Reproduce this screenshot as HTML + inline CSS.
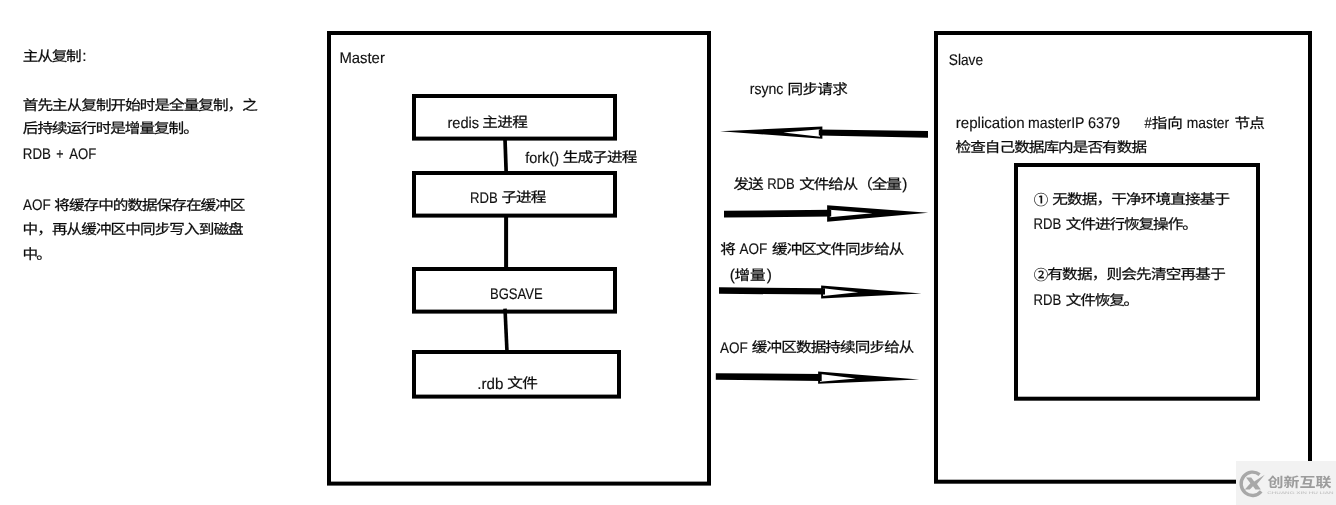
<!DOCTYPE html>
<html lang="zh-CN">
<head>
<meta charset="utf-8">
<title>Redis 主从复制</title>
<style>
html,body{margin:0;padding:0;background:#fff;}
body{width:1336px;height:505px;overflow:hidden;position:relative;}
svg{position:absolute;left:0;top:0;display:block;will-change:transform;}
text{font-family:"Liberation Sans", "Noto Sans CJK SC", sans-serif;font-size:15.4px;fill:#111;white-space:pre;text-rendering:geometricPrecision;stroke:#111;stroke-width:0.15px;}
.c{font-size:15.6px;fill:#0a0a0a;stroke:#0a0a0a;stroke-width:0.25px;}
.b{fill:none;stroke:#000;stroke-width:4;}
</style>
</head>
<body>
<svg width="1336" height="505" viewBox="0 0 1336 505">
<rect x="0" y="0" width="1336" height="505" fill="#fff"/>
<!-- boxes -->
<rect class="b" x="329.0" y="33.0" width="380.0" height="450.6"/>
<rect class="b" x="936.0" y="33.0" width="374.0" height="448.7"/>
<rect class="b" x="414.0" y="96.0" width="201.0" height="42.6"/>
<rect class="b" x="414.0" y="173.0" width="201.0" height="42.6"/>
<rect class="b" x="414.0" y="269.0" width="201.0" height="42.6"/>
<rect class="b" x="414.0" y="352.0" width="205.0" height="44.6"/>
<rect class="b" x="1016.0" y="165.0" width="242.0" height="233.7"/>
<!-- connectors -->
<line x1="505" y1="139" x2="506.2" y2="173" stroke="#000" stroke-width="3.7"/>
<line x1="506.1" y1="216" x2="506.1" y2="269" stroke="#000" stroke-width="4"/>
<line x1="505" y1="308.6" x2="507" y2="352" stroke="#000" stroke-width="3.6"/>
<!-- arrows -->
<polygon points="720.0,131.2 822.4,126.5 822.4,138.8" fill="#000"/>
<polygon points="783.3,132.4 820.0,129.2 820.0,136.7" fill="#fff"/>
<polygon points="818.8,129.5 928.0,131.0 928.0,137.8 818.8,135.5" fill="#000"/>
<polygon points="827.1,205.2 928.2,212.8 827.1,221.8" fill="#000"/>
<polygon points="829.8,209.7 872.5,213.3 829.8,217.3" fill="#fff"/>
<polygon points="724.0,210.8 831.2,209.7 831.2,216.4 724.0,217.6" fill="#000"/>
<polygon points="821.1,285.4 921.5,293.6 821.1,298.4" fill="#000"/>
<polygon points="823.1,288.2 858.1,292.3 823.1,295.9" fill="#fff"/>
<polygon points="719.0,287.3 825.0,288.3 825.0,294.6 719.0,293.8" fill="#000"/>
<polygon points="818.1,371.6 919.2,379.5 818.1,383.8" fill="#000"/>
<polygon points="820.0,374.1 855.8,378.4 820.0,381.8" fill="#fff"/>
<polygon points="715.8,373.2 821.7,374.1 821.7,380.9 715.8,379.8" fill="#000"/>
<!-- text -->
<text class="c" x="22.80" y="61.00" textLength="58.89" lengthAdjust="spacing" transform="matrix(1 0 0 0.900 0 5.900)">主从复制</text>
<text x="82.23" y="61.00">:</text>
<text class="c" x="22.80" y="109.90" textLength="235.01" lengthAdjust="spacing" transform="matrix(1 0 0 0.900 0 10.790)">首先主从复制开始时是全量复制，之</text>
<text class="c" x="22.80" y="133.50" textLength="175.98" lengthAdjust="spacing" transform="matrix(1 0 0 0.900 0 13.150)">后持续运行时是增量复制。</text>
<text x="22.79" y="158.50" textLength="28.13" lengthAdjust="spacingAndGlyphs">RDB</text>
<text x="56.29" y="158.50" textLength="7.31" lengthAdjust="spacingAndGlyphs">+</text>
<text x="69.20" y="158.50" textLength="27.03" lengthAdjust="spacingAndGlyphs">AOF</text>
<text x="23.02" y="209.80" textLength="27.68" lengthAdjust="spacingAndGlyphs">AOF</text>
<text class="c" x="54.25" y="209.80" textLength="191.21" lengthAdjust="spacing" transform="matrix(1 0 0 0.900 0 20.780)">将缓存中的数据保存在缓冲区</text>
<text class="c" x="22.52" y="234.30" textLength="221.17" lengthAdjust="spacing" transform="matrix(1 0 0 0.900 0 23.230)">中，再从缓冲区中同步写入到磁盘</text>
<text class="c" x="22.52" y="258.80" textLength="29.34" lengthAdjust="spacing" transform="matrix(1 0 0 0.900 0 25.680)">中。</text>
<text x="339.40" y="62.90" textLength="45.45" lengthAdjust="spacingAndGlyphs">Master</text>
<text x="447.40" y="127.70" textLength="31.70" lengthAdjust="spacingAndGlyphs">redis</text>
<text class="c" x="482.30" y="127.70" textLength="45.62" lengthAdjust="spacing" transform="matrix(1 0 0 0.900 0 12.570)">主进程</text>
<text x="525.20" y="162.60" textLength="33.79" lengthAdjust="spacingAndGlyphs">fork()</text>
<text class="c" x="562.65" y="162.60" textLength="74.68" lengthAdjust="spacing" transform="matrix(1 0 0 0.900 0 16.060)">生成子进程</text>
<text x="469.97" y="202.60" textLength="27.72" lengthAdjust="spacingAndGlyphs">RDB</text>
<text class="c" x="501.57" y="202.60" textLength="44.67" lengthAdjust="spacing" transform="matrix(1 0 0 0.900 0 20.060)">子进程</text>
<text x="489.97" y="298.80" textLength="52.65" lengthAdjust="spacingAndGlyphs">BGSAVE</text>
<text x="477.32" y="388.50" textLength="26.08" lengthAdjust="spacingAndGlyphs">.rdb</text>
<text class="c" x="507.30" y="388.50" textLength="30.64" lengthAdjust="spacing" transform="matrix(1 0 0 0.900 0 38.650)">文件</text>
<text x="749.76" y="94.30" textLength="33.67" lengthAdjust="spacingAndGlyphs">rsync</text>
<text class="c" x="787.48" y="94.30" textLength="60.44" lengthAdjust="spacing" transform="matrix(1 0 0 0.900 0 9.230)">同步请求</text>
<text class="c" x="733.60" y="189.25" textLength="29.97" lengthAdjust="spacing" transform="matrix(1 0 0 0.900 0 18.725)">发送</text>
<text x="767.22" y="189.25" textLength="27.49" lengthAdjust="spacingAndGlyphs">RDB</text>
<text class="c" x="799.22" y="189.25" textLength="102.52" lengthAdjust="spacing" transform="matrix(1 0 0 0.900 0 18.725)">文件给从（全量</text>
<text x="902.20" y="189.25">)</text>
<text class="c" x="720.30" y="254.20" transform="matrix(1 0 0 0.900 0 25.220)">将</text>
<text x="739.46" y="254.20" textLength="27.80" lengthAdjust="spacingAndGlyphs">AOF</text>
<text class="c" x="772.09" y="254.20" textLength="132.36" lengthAdjust="spacing" transform="matrix(1 0 0 0.900 0 25.220)">缓冲区文件同步给从</text>
<text x="729.76" y="279.90">(</text>
<text class="c" x="734.50" y="279.90" textLength="31.19" lengthAdjust="spacing" transform="matrix(1 0 0 0.900 0 27.790)">增量</text>
<text x="766.64" y="279.90">)</text>
<text x="720.02" y="352.50" textLength="27.82" lengthAdjust="spacingAndGlyphs">AOF</text>
<text class="c" x="751.84" y="352.50" textLength="162.63" lengthAdjust="spacing" transform="matrix(1 0 0 0.900 0 35.050)">缓冲区数据持续同步给从</text>
<text x="948.80" y="64.80" textLength="34.24" lengthAdjust="spacingAndGlyphs">Slave</text>
<text x="955.72" y="127.75" textLength="68.85" lengthAdjust="spacingAndGlyphs">replication</text>
<text x="1028.10" y="127.75" textLength="56.42" lengthAdjust="spacingAndGlyphs">masterIP</text>
<text x="1087.91" y="127.75" textLength="32.24" lengthAdjust="spacingAndGlyphs">6379</text>
<text x="1144.60" y="127.75" textLength="7.30" lengthAdjust="spacingAndGlyphs">#</text>
<text class="c" x="1151.70" y="127.75" textLength="31.20" lengthAdjust="spacing" transform="matrix(1 0 0 0.900 0 12.575)">指向</text>
<text x="1186.78" y="127.75" textLength="42.39" lengthAdjust="spacingAndGlyphs">master</text>
<text class="c" x="1234.41" y="127.75" textLength="30.56" lengthAdjust="spacing" transform="matrix(1 0 0 0.900 0 12.575)">节点</text>
<text class="c" x="955.50" y="152.60" textLength="191.50" lengthAdjust="spacing" transform="matrix(1 0 0 0.900 0 15.060)">检查自己数据库内是否有数据</text>
<text x="1033.80" y="204.50" style="font-size:14.5px;font-weight:500;">①</text>
<text class="c" x="1052.30" y="204.00" textLength="177.90" lengthAdjust="spacing" transform="matrix(1 0 0 0.900 0 20.200)">无数据，干净环境直接基于</text>
<text x="1033.40" y="229.40" textLength="27.78" lengthAdjust="spacingAndGlyphs">RDB</text>
<text class="c" x="1065.83" y="229.40" textLength="131.99" lengthAdjust="spacing" transform="matrix(1 0 0 0.900 0 22.740)">文件进行恢复操作。</text>
<text x="1033.80" y="279.50" style="font-size:14.5px;font-weight:500;">②</text>
<text class="c" x="1047.30" y="279.00" textLength="178.44" lengthAdjust="spacing" transform="matrix(1 0 0 0.900 0 27.700)">有数据，则会先清空再基于</text>
<text x="1033.40" y="305.40" textLength="27.78" lengthAdjust="spacingAndGlyphs">RDB</text>
<text class="c" x="1065.83" y="305.40" textLength="73.34" lengthAdjust="spacing" transform="matrix(1 0 0 0.900 0 30.340)">文件恢复。</text>
<!-- watermark -->
<rect x="1236" y="461" width="100" height="44" fill="#f2f2f2"/>
<path d="M1259.6,474.6 A11.4,11.7 0 1 0 1261.2,491.4" fill="none" stroke="#a8a8a8" stroke-width="3.4"/>
<path d="M1246,477.6 L1251.2,477.6 L1254.2,481.6 L1264.8,474.8 L1257,484 L1260.8,489.4 L1255.4,489.4 L1253,486.2 L1249.8,489.4 L1244.8,489.4 L1250.4,483.2 Z" fill="#a8a8a8"/>
<text x="1267.6" y="487.2" textLength="64" lengthAdjust="spacingAndGlyphs" style="stroke:none;font-size:13.6px;font-weight:bold;fill:#9c9c9c;">创新互联</text>
<text x="1267.2" y="493.7" textLength="66.5" lengthAdjust="spacingAndGlyphs" style="stroke:none;font-size:3.6px;fill:#b8b8b8;">CHUANG XIN HU LIAN</text>

</svg>
</body>
</html>
